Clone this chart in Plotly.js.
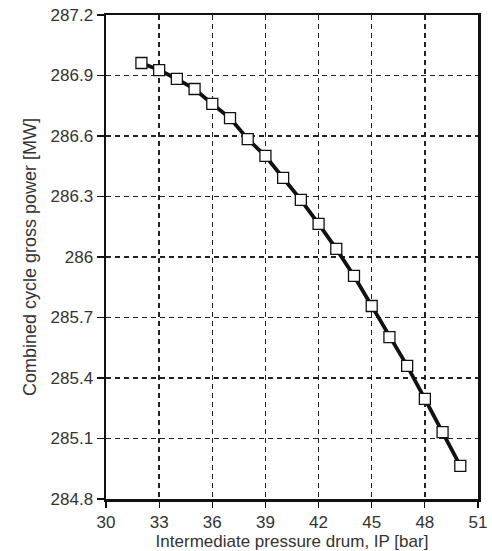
<!DOCTYPE html>
<html>
<head>
<meta charset="utf-8">
<script src="https://cdn.plot.ly/plotly-3.0.1.min.js"></script>
<style>html,body{margin:0;padding:0;background:#fff;}#chart{width:492px;height:551px;}</style>
</head>
<body>
<div id="chart"></div>
<script>
const pressure = [32, 33, 34, 35, 36, 37, 38, 39, 40, 41, 42, 43, 44, 45, 46, 47, 48, 49, 50];
const grossPower = [286.962, 286.927, 286.883, 286.833, 286.759, 286.689, 286.585, 286.501, 286.392, 286.283, 286.164, 286.040, 285.906, 285.757, 285.603, 285.460, 285.296, 285.132, 284.964];
const xTicks = [30, 33, 36, 39, 42, 45, 48, 51];
const yTicks = [284.8, 285.1, 285.4, 285.7, 286, 286.3, 286.6, 286.9, 287.2];
const yTickText = ['284.8', '285.1', '285.4', '285.7', '286', '286.3', '286.6', '286.9', '287.2'];

const trace = {
  x: pressure, y: grossPower, type: 'scatter', mode: 'lines+markers',
  line: {color: '#111', width: 3.8},
  marker: {symbol: 'square', size: 11, color: '#fff', line: {color: '#111', width: 1.3}},
  hoverinfo: 'skip', showlegend: false
};

const fontFam = 'Liberation Sans, Arial, sans-serif';
const axisCommon = {
  showline: true, linecolor: '#111', linewidth: 2.5, mirror: true,
  ticks: 'outside', ticklen: 7, tickwidth: 1.2, tickcolor: '#111',
  showgrid: true, gridcolor: '#222', gridwidth: 1.4, griddash: '5px,4px',
  zeroline: false, tickfont: {family: fontFam, size: 17, color: '#333'}
};

const layout = {
  width: 492, height: 551,
  margin: {l: 106, r: 14, t: 15, b: 52},
  paper_bgcolor: '#fff', plot_bgcolor: '#fff',
  font: {family: fontFam, color: '#333'},
  xaxis: Object.assign({}, axisCommon, {
    range: [30, 51], tickmode: 'array', tickvals: xTicks, ticklen: 6,
    title: {text: 'Intermediate pressure drum, IP [bar]', font: {size: 17, color: '#333'}, standoff: 0}
  }),
  yaxis: Object.assign({}, axisCommon, {
    range: [284.8, 287.2], tickmode: 'array', tickvals: yTicks, ticktext: yTickText,
    title: {text: 'Combined cycle gross power [MW]', font: {size: 18, color: '#333'}, standoff: 10}
  })
};

Plotly.newPlot('chart', [trace], layout, {staticPlot: true, displayModeBar: false});
</script>
</body>
</html>
